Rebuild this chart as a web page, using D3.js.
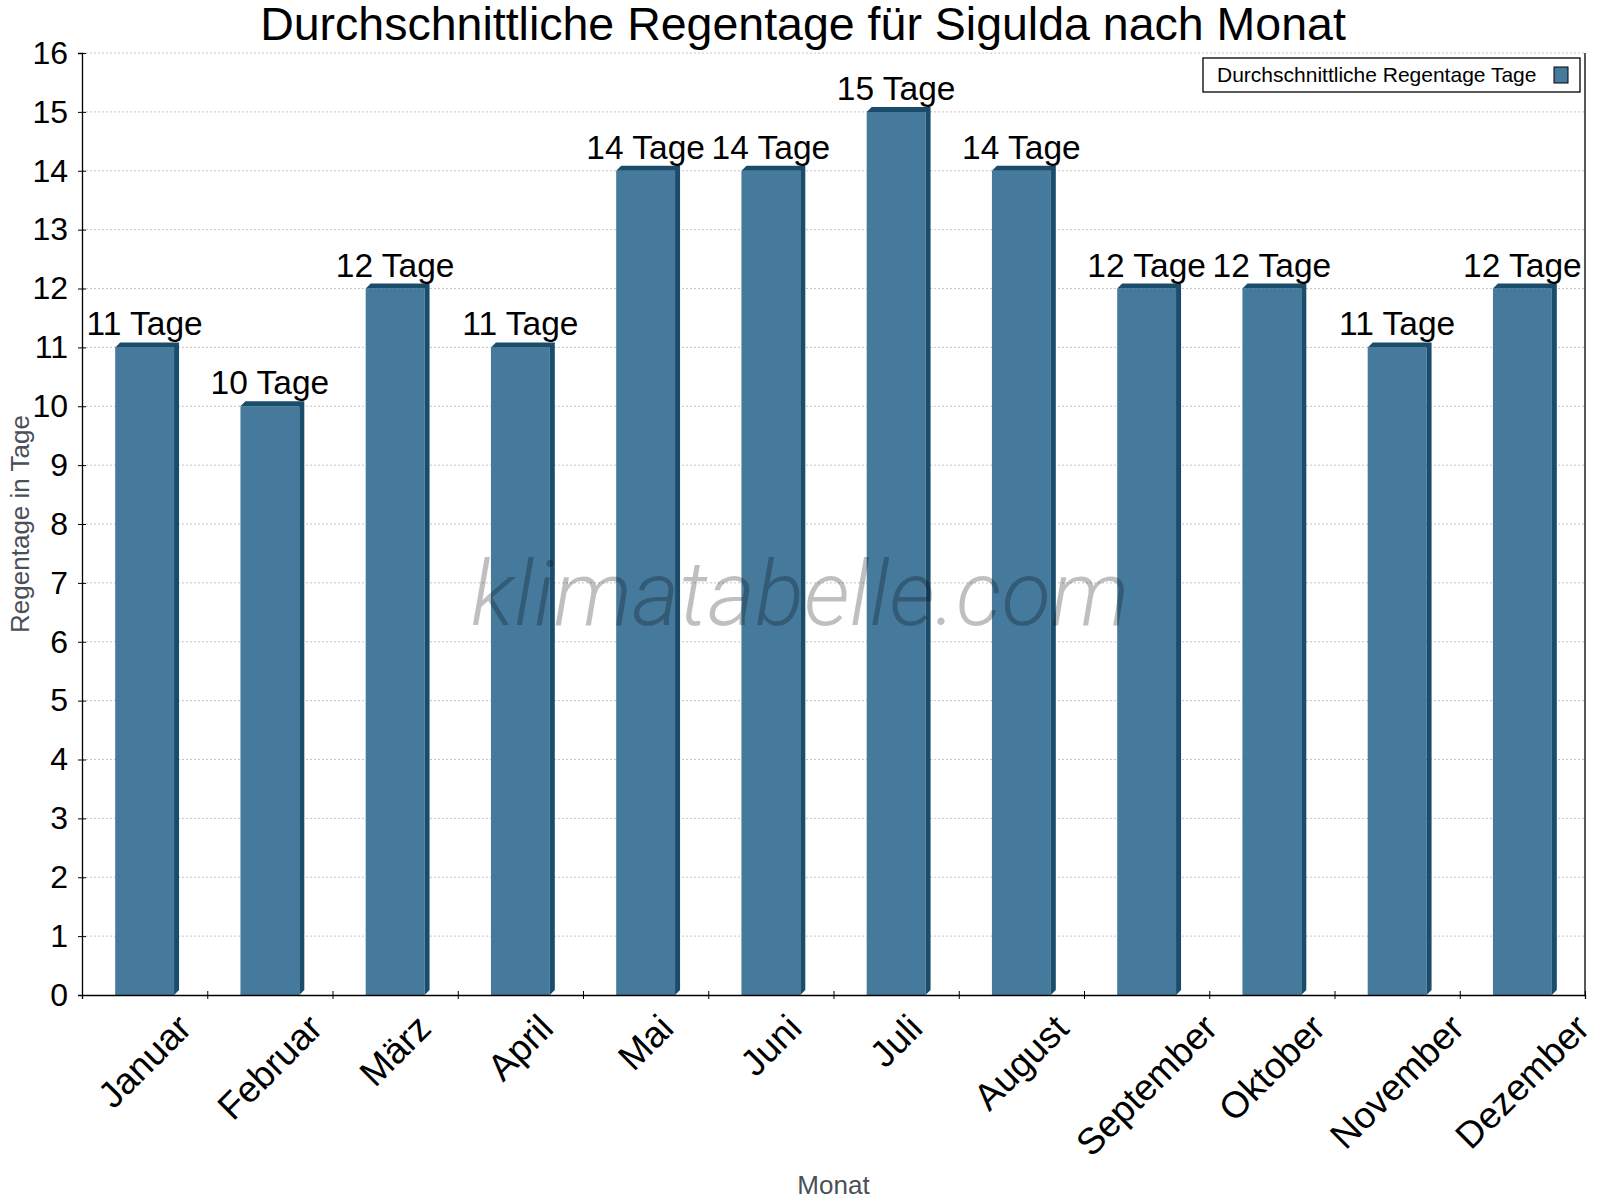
<!DOCTYPE html>
<html>
<head>
<meta charset="utf-8">
<script src="https://cdn.jsdelivr.net/npm/d3@7"></script>
<style>
  body { margin: 0; background: #fff; }
  text { font-family: 'Liberation Sans', Arial, sans-serif; }
</style>
</head>
<body>
<svg id="chart" width="1600" height="1200"></svg>
<script>
const months = ['Januar', 'Februar', 'März', 'April', 'Mai', 'Juni', 'Juli',
  'August', 'September', 'Oktober', 'November', 'Dezember'];
const rainDays = [11, 10, 12, 11, 14, 14, 15, 14, 12, 12, 11, 12];
const yTicks = d3.range(0, 17);
const unit = 'Tage';
const seriesName = 'Durchschnittliche Regentage Tage';

const margin = { top: 53, right: 15, bottom: 205, left: 82 },
  width = 1600,
  height = 1200,
  depth = 5;

const front = '#467a9c',
  dark = '#1a4c6c';

const svg = d3.select('#chart');

const x = d3
  .scaleBand()
  .domain(months)
  .range([margin.left, width - margin.right])
  .paddingInner(0.53)
  .paddingOuter(0.265);

// boundaries between months for the ticks
const xEdge = d3
  .scaleLinear()
  .domain([0, months.length])
  .range([margin.left, width - margin.right]);

const y = d3
  .scaleLinear()
  .domain([0, 16])
  .range([height - margin.bottom, margin.top]);

// grid
svg
  .append('g')
  .selectAll('line')
  .data(yTicks.slice(1))
  .join('line')
  .attr('x1', margin.left)
  .attr('x2', width - margin.right)
  .attr('y1', d => y(d))
  .attr('y2', d => y(d))
  .attr('stroke', '#c4c4c4')
  .attr('stroke-dasharray', '2,2');

// bars
const bars = svg
  .append('g')
  .selectAll('g')
  .data(months.map((m, i) => ({ m, v: rainDays[i] })))
  .join('g');

bars
  .append('rect')
  .attr('x', d => x(d.m))
  .attr('y', d => y(d.v))
  .attr('width', x.bandwidth())
  .attr('height', d => y(0) - y(d.v))
  .attr('fill', front);

bars
  .append('path')
  .attr('fill', dark)
  .attr('d', d => {
    const x0 = x(d.m), x1 = x0 + x.bandwidth(), t = y(d.v), b = y(0);
    return `M${x0},${t}L${x0 + depth},${t - depth}L${x1 + depth},${t - depth}` +
      `L${x1 + depth},${b - depth}L${x1},${b}L${x1},${t}Z`;
  });

bars
  .append('text')
  .attr('x', d => x(d.m) + x.bandwidth() / 2)
  .attr('y', d => y(d.v) - 12)
  .attr('text-anchor', 'middle')
  .attr('font-size', 33.5)
  .attr('fill', '#000')
  .text(d => `${d.v} ${unit}`);

// watermark, drawn over the bars
svg
  .append('text')
  .attr('x', 800)
  .attr('y', 625)
  .attr('text-anchor', 'middle')
  .style('font-family', 'Roboto, sans-serif')
  .style('font-weight', 300)
  .style('font-style', 'italic')
  .attr('font-size', 91)
  .attr('fill', 'rgba(0,0,0,0.25)')
  .text('klimatabelle.com');

// y axis
const yAxis = svg
  .append('g')
  .attr('transform', `translate(${margin.left},0)`)
  .call(d3.axisLeft(y).tickValues(yTicks).tickSize(4).tickPadding(10))
  .call(g => g.select('.domain').attr('stroke', '#000').attr('stroke-width', 1.3));
yAxis.selectAll('.tick line').attr('x1', -4).attr('x2', 4).attr('stroke', '#000');
yAxis
  .selectAll('.tick text')
  .attr('font-size', 32)
  .attr('fill', '#000')
  .style('font-family', "'Liberation Sans', Arial, sans-serif");

// right border
svg
  .append('line')
  .attr('x1', width - margin.right)
  .attr('x2', width - margin.right)
  .attr('y1', margin.top)
  .attr('y2', y(0))
  .attr('stroke', '#000')
  .attr('stroke-width', 1.3);

// x axis
const xAxis = svg
  .append('g')
  .attr('transform', `translate(0,${y(0)})`)
  .call(d3.axisBottom(xEdge).tickValues(d3.range(months.length + 1)).tickSize(4).tickFormat(''))
  .call(g => g.select('.domain').attr('stroke', '#000').attr('stroke-width', 1.3));
xAxis.selectAll('.tick line').attr('y1', -4).attr('y2', 4).attr('stroke', '#000');

// rotated month labels, bbox centred under each bar
const labelTop = y(0) + 12;
svg
  .append('g')
  .selectAll('g')
  .data(months)
  .join('g')
  .each(function (m) {
    const g = d3.select(this);
    g.append('text')
      .attr('transform', 'rotate(-45)')
      .attr('text-anchor', 'middle')
      .attr('font-size', 37)
      .attr('fill', '#000')
      .text(m);
    const bb = this.getBBox();
    const cx = x(m) + x.bandwidth() / 2;
    g.attr('transform', `translate(${cx - (bb.x + bb.width / 2)},${labelTop - bb.y})`);
  });

// axis titles
svg
  .append('text')
  .attr('x', (margin.left + width - margin.right) / 2)
  .attr('y', 1194)
  .attr('text-anchor', 'middle')
  .attr('font-size', 26)
  .attr('fill', '#4a5058')
  .text('Monat');

svg
  .append('text')
  .attr('transform', `translate(29,${(y(0) + margin.top) / 2}) rotate(-90)`)
  .attr('text-anchor', 'middle')
  .attr('font-size', 26)
  .attr('fill', '#4a5058')
  .text('Regentage in Tage');

// title
svg
  .append('text')
  .attr('x', 803)
  .attr('y', 40)
  .attr('text-anchor', 'middle')
  .attr('font-size', 46.5)
  .attr('fill', '#000')
  .text('Durchschnittliche Regentage für Sigulda nach Monat');

// legend
const legend = svg.append('g');
legend
  .append('rect')
  .attr('x', 1203)
  .attr('y', 58)
  .attr('width', 377)
  .attr('height', 34)
  .attr('fill', '#fff')
  .attr('stroke', '#000')
  .attr('stroke-width', 1.3);
legend
  .append('text')
  .attr('x', 1217)
  .attr('y', 82)
  .attr('font-size', 21)
  .attr('fill', '#000')
  .text(seriesName);
legend
  .append('rect')
  .attr('x', 1554)
  .attr('y', 67)
  .attr('width', 14)
  .attr('height', 16)
  .attr('fill', front)
  .attr('stroke', '#000');
</script>
</body>
</html>
